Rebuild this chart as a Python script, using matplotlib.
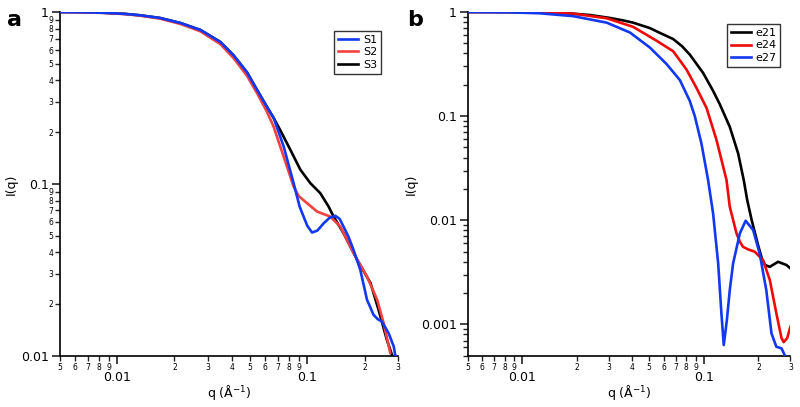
import numpy as np
import matplotlib
matplotlib.use("Agg")
import matplotlib.pyplot as plt
from matplotlib.ticker import LogLocator, FuncFormatter, NullFormatter

plt.rcParams['font.family'] = ['DejaVu Sans']

# ---- panel a : S1, S2, S3 ----
q_s1 = [0.005, 0.0065, 0.0085, 0.011, 0.0132, 0.0168, 0.0215, 0.0274, 0.0349, 0.0409,
        0.0482, 0.0544, 0.0614, 0.0665, 0.0751, 0.0847, 0.0911, 0.0956, 0.1000, 0.1059,
        0.113, 0.122, 0.131, 0.1404, 0.148, 0.155, 0.165, 0.175, 0.190, 0.206, 0.223,
        0.235, 0.247, 0.268, 0.285, 0.290]
i_s1 = [1.0, 0.997, 0.99, 0.975, 0.957, 0.923, 0.863, 0.786, 0.669, 0.56,
        0.445, 0.352, 0.28, 0.242, 0.165, 0.101, 0.0738, 0.0645, 0.057, 0.0521,
        0.0535, 0.059, 0.0635, 0.0652, 0.0625, 0.0565, 0.049, 0.0413, 0.0316, 0.0212, 0.0173,
        0.0163, 0.0158, 0.0135, 0.0113, 0.0101]

q_s2 = [0.005, 0.0065, 0.0085, 0.011, 0.0132, 0.0168, 0.0215, 0.0274, 0.0349, 0.0409,
        0.0482, 0.0544, 0.0614, 0.0665, 0.0751, 0.0847, 0.090, 0.0996, 0.1125, 0.132,
        0.149, 0.175, 0.206, 0.233, 0.252, 0.273]
i_s2 = [1.0, 0.996, 0.988, 0.972, 0.952, 0.915, 0.852, 0.772, 0.65, 0.54,
        0.425, 0.337, 0.262, 0.215, 0.144, 0.0965, 0.085, 0.0773, 0.069, 0.0645,
        0.0565, 0.0396, 0.0289, 0.0212, 0.0155, 0.0104]

q_s3 = [0.005, 0.0065, 0.0085, 0.011, 0.0132, 0.0168, 0.0215, 0.0274, 0.0349, 0.0409,
        0.0482, 0.0544, 0.0614, 0.0665, 0.0721, 0.0814, 0.0919, 0.1037, 0.117, 0.1294,
        0.1375, 0.155, 0.183, 0.215, 0.237, 0.262, 0.279]
i_s3 = [1.0, 0.997, 0.99, 0.975, 0.957, 0.923, 0.863, 0.786, 0.669, 0.56,
        0.445, 0.352, 0.28, 0.242, 0.205, 0.158, 0.121, 0.101, 0.0883, 0.0738,
        0.0645, 0.0517, 0.0361, 0.0265, 0.0185, 0.0124, 0.0101]

# ---- panel b : e21, e24, e27 ----
q_e21 = [0.005, 0.0085, 0.0125, 0.0175, 0.0236, 0.030, 0.036, 0.0408, 0.0505, 0.0573,
         0.0678, 0.0758, 0.0837, 0.0991, 0.1125, 0.1225, 0.139, 0.1545, 0.166, 0.1735,
         0.1836, 0.199, 0.2085, 0.217, 0.231, 0.2565, 0.285, 0.300]
i_e21 = [1.0, 0.999, 0.995, 0.975, 0.935, 0.88, 0.83, 0.79, 0.70, 0.63,
         0.55, 0.47, 0.39, 0.26, 0.175, 0.13, 0.079, 0.044, 0.0243, 0.0156,
         0.0100, 0.00578, 0.00434, 0.00372, 0.00357, 0.00399, 0.00372, 0.00345]

q_e24 = [0.005, 0.0085, 0.0125, 0.0191, 0.0292, 0.0408, 0.0549, 0.0678, 0.0803, 0.0912,
         0.1035, 0.1175, 0.1334, 0.139, 0.1514, 0.158, 0.1645, 0.1755, 0.191, 0.212,
         0.231, 0.251, 0.268, 0.2756, 0.288, 0.300]
i_e24 = [1.0, 0.998, 0.99, 0.965, 0.87, 0.72, 0.53, 0.42, 0.28, 0.186,
         0.12, 0.059, 0.0243, 0.0135, 0.00748, 0.00621, 0.00556, 0.00525, 0.00498, 0.00414,
         0.00267, 0.00128, 0.000738, 0.000676, 0.000738, 0.00095]

q_e27 = [0.005, 0.0085, 0.0125, 0.0191, 0.0292, 0.0392, 0.0505, 0.0624, 0.0738, 0.0837,
         0.0892, 0.0970, 0.1056, 0.1125, 0.120, 0.125, 0.1288, 0.134, 0.139, 0.145,
         0.158, 0.170, 0.187, 0.203, 0.221, 0.236, 0.251, 0.268, 0.279]
i_e27 = [1.0, 0.993, 0.972, 0.912, 0.79, 0.635, 0.455, 0.316, 0.222, 0.14,
         0.1, 0.0548, 0.0243, 0.01165, 0.00385, 0.00128, 0.000633, 0.0011, 0.00213, 0.00385,
         0.00748, 0.00989, 0.00805, 0.00481, 0.00213, 0.000819, 0.00061, 0.000588, 0.000507]

BLUE = '#1238f0'
RED_A = '#f2413f'
RED_B = '#ee0a0a'
LW = 1.9


def digit(v, pos):
    return str(int(round(v / 10 ** np.floor(np.log10(v) + 1e-9))))


def major(v, pos):
    return '%g' % v


def style(ax, label_y_minor):
    for s in ['top', 'right']:
        ax.spines[s].set_visible(False)
    for s in ['left', 'bottom']:
        ax.spines[s].set_linewidth(1.2)
    ax.set_xscale('log')
    ax.set_yscale('log')
    ax.xaxis.set_major_locator(LogLocator(base=10, subs=(1.0,)))
    ax.xaxis.set_minor_locator(LogLocator(base=10, subs=np.arange(2, 10)))
    ax.xaxis.set_major_formatter(FuncFormatter(major))
    ax.xaxis.set_minor_formatter(FuncFormatter(digit))
    ax.yaxis.set_major_locator(LogLocator(base=10, subs=(1.0,)))
    ax.yaxis.set_minor_locator(LogLocator(base=10, subs=np.arange(2, 10)))
    ax.yaxis.set_major_formatter(FuncFormatter(major))
    if label_y_minor:
        ax.yaxis.set_minor_formatter(FuncFormatter(digit))
    else:
        ax.yaxis.set_minor_formatter(NullFormatter())
    ax.tick_params(which='major', direction='out', length=6, width=1.2, labelsize=9, color='#222222')
    ax.tick_params(which='minor', direction='out', length=3.5, width=1.0, labelsize=5.5, color='#222222')
    ax.tick_params(axis='x', which='major', pad=5)
    ax.tick_params(axis='x', which='minor', pad=1.5)
    ax.tick_params(axis='y', which='minor', pad=1.5)
    ax.tick_params(axis='y', which='major', pad=2)
    ax.set_xlabel('q (Å$^{-1}$)', fontsize=9)
    ax.set_ylabel('I(q)', fontsize=9)


fig = plt.figure(figsize=(8, 4.07), dpi=100)
ax1 = fig.add_axes([0.075, 0.126, 0.4225, 0.8445])
ax2 = fig.add_axes([0.5846, 0.126, 0.4034, 0.8445])

ax1.plot(q_s1, i_s1, color=BLUE, lw=LW, label='S1', zorder=3)
ax1.plot(q_s2, i_s2, color=RED_A, lw=LW, label='S2', zorder=2)
ax1.plot(q_s3, i_s3, color='black', lw=LW, label='S3', zorder=1)
ax1.set_xlim(0.005, 0.3)
ax1.set_ylim(0.01, 1)
style(ax1, True)
leg = ax1.legend(loc='upper right', bbox_to_anchor=(0.966, 0.962), fontsize=8,
                 frameon=True, fancybox=False, edgecolor='black', handlelength=1.8,
                 handletextpad=0.4, labelspacing=0.25, borderpad=0.35)
leg.get_frame().set_linewidth(1.0)

ax2.plot(q_e21, i_e21, color='black', lw=LW, label='e21', zorder=1)
ax2.plot(q_e24, i_e24, color=RED_B, lw=LW, label='e24', zorder=2)
ax2.plot(q_e27, i_e27, color=BLUE, lw=LW, label='e27', zorder=3)
ax2.set_xlim(0.005, 0.3)
ax2.set_ylim(0.0005, 1)
style(ax2, False)
leg = ax2.legend(loc='upper right', bbox_to_anchor=(0.985, 0.982), fontsize=8,
                 frameon=True, fancybox=False, edgecolor='black', handlelength=1.8,
                 handletextpad=0.4, labelspacing=0.25, borderpad=0.35)
leg.get_frame().set_linewidth(1.0)

for ax in (ax1, ax2):
    ax.xaxis.set_label_coords(0.5, -0.08)
ax1.yaxis.set_label_coords(-0.125, 0.5)
ax2.yaxis.set_label_coords(-0.155, 0.5)

fig.text(0.009, 0.936, 'a', fontsize=16, fontweight='bold', va='baseline', ha='left')
fig.text(0.509, 0.936, 'b', fontsize=16, fontweight='bold', va='baseline', ha='left')

fig.savefig('out.png', dpi=100)
